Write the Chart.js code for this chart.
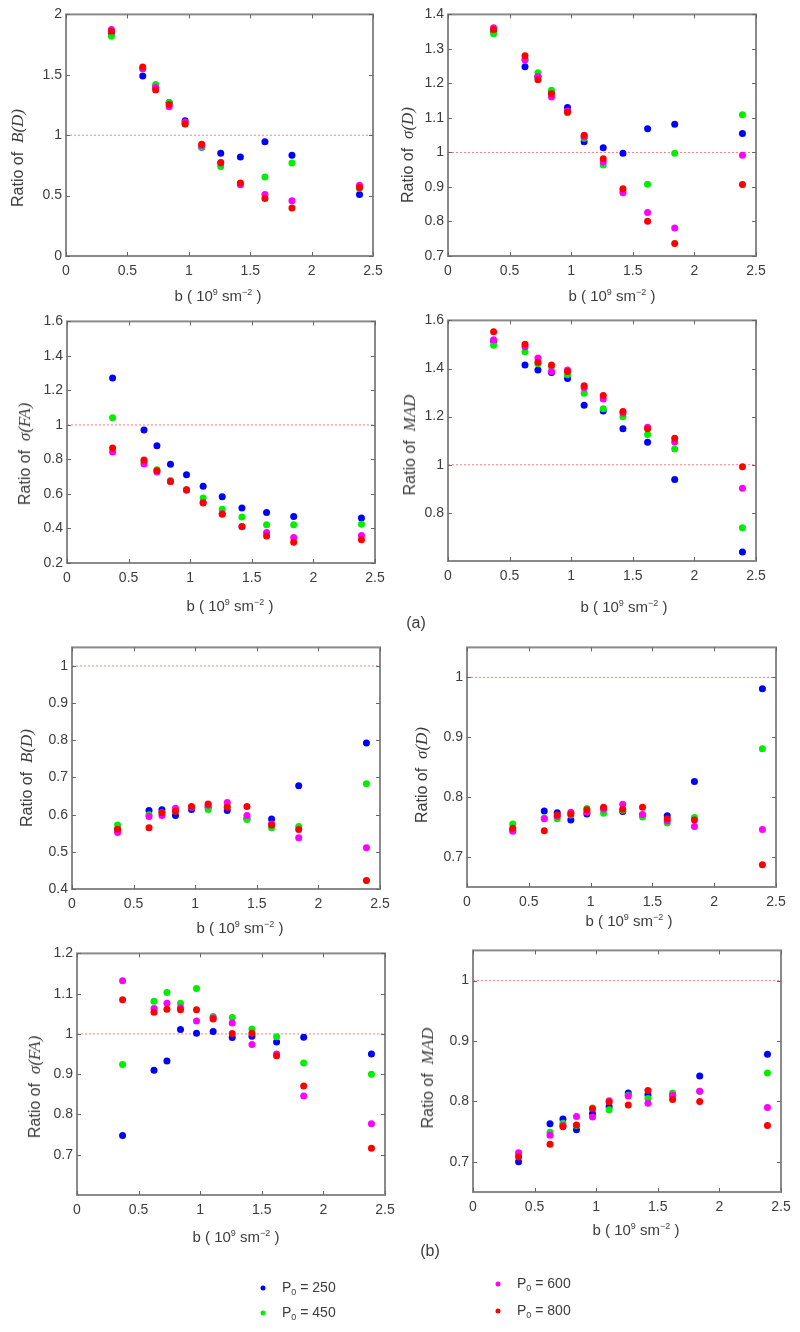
<!DOCTYPE html>
<html>
<head>
<meta charset="utf-8">
<script src="https://cdn.jsdelivr.net/npm/chart.js@4.4.1/dist/chart.umd.min.js"></script>
<style>
  body { margin: 0; background: #fff; width: 800px; height: 1332px; position: relative; overflow: hidden;
         font-family: Arial, "Liberation Sans", sans-serif; color: #3c3c3c; }
  canvas { position: absolute; }
  .yt { position: absolute; transform: translate(-50%, -50%) rotate(-90deg); white-space: nowrap; font-size: 16px; }
  .xt { position: absolute; transform: translate(-50%, -50%); white-space: nowrap; font-size: 15px; }
  .xt sup { font-size: 9px; vertical-align: 6px; }
  .m { font-family: "Liberation Serif", "DejaVu Serif", serif; font-style: italic; font-size: 17px; }
  .tag { position: absolute; transform: translate(-50%, -50%); font-size: 16px; }
  .leg { position: absolute; font-size: 14px; white-space: nowrap; transform: translateY(-50%); }
  .leg sub { font-size: 9px; }
  .dot { position: absolute; width: 5px; height: 5px; border-radius: 50%; transform: translate(-50%, -50%); }
</style>
</head>
<body>
<script>
// b values (10^9 s m^-2), shared by every panel
const bValues = [0.37, 0.625, 0.73, 0.84, 0.97, 1.105, 1.26, 1.42, 1.62, 1.84, 2.39];
const xTicks = [0, 0.5, 1, 1.5, 2, 2.5];

const seriesLabels = ['P0 = 250', 'P0 = 450', 'P0 = 600', 'P0 = 800'];
const seriesColors = ['#0000ff', '#00ee00', '#ff00ff', '#ff0000'];

// y tick values per panel
const yTicksBiasA = [0, 0.5, 1, 1.5, 2];
const yTicksSdDA = [0.7, 0.8, 0.9, 1, 1.1, 1.2, 1.3, 1.4];
const yTicksSdFAA = [0.2, 0.4, 0.6, 0.8, 1, 1.2, 1.4, 1.6];
const yTicksMadA = [0.8, 1, 1.2, 1.4, 1.6];
const yTicksBiasB = [0.4, 0.5, 0.6, 0.7, 0.8, 0.9, 1];
const yTicksSdDB = [0.7, 0.8, 0.9, 1];
const yTicksSdFAB = [0.7, 0.8, 0.9, 1, 1.1, 1.2];
const yTicksMadB = [0.7, 0.8, 0.9, 1];

// ----- (a) Ratio of B(D)
const aBiasD250 = [1.84, 1.49, 1.40, 1.27, 1.12, 0.90, 0.85, 0.82, 0.945, 0.835, 0.51];
const aBiasD450 = [1.82, 1.55, 1.42, 1.27, 1.09, 0.90, 0.74, 0.60, 0.655, 0.77, 0.56];
const aBiasD600 = [1.875, 1.55, 1.395, 1.235, 1.11, 0.915, 0.77, 0.59, 0.51, 0.457, 0.585];
const aBiasD800 = [1.86, 1.565, 1.375, 1.255, 1.095, 0.925, 0.775, 0.605, 0.477, 0.397, 0.567];

// ----- (a) Ratio of sigma(D)
const aSdD250 = [1.35, 1.248, 1.22, 1.175, 1.13, 1.031, 1.014, 0.998, 1.069, 1.082, 1.055];
const aSdD450 = [1.344, 1.27, 1.231, 1.18, 1.115, 1.041, 0.964, 0.89, 0.908, 0.998, 1.109];
const aSdD600 = [1.3615, 1.268, 1.22, 1.161, 1.12, 1.045, 0.972, 0.883, 0.826, 0.781, 0.992];
const aSdD800 = [1.356, 1.28, 1.211, 1.17, 1.117, 1.05, 0.982, 0.895, 0.801, 0.736, 0.907];

// ----- (a) Ratio of sigma(FA)
const aSdFA250 = [1.272, 0.971, 0.879, 0.772, 0.711, 0.645, 0.584, 0.519, 0.492, 0.469, 0.461];
const aSdFA450 = [1.042, 0.785, 0.741, 0.678, 0.624, 0.576, 0.511, 0.467, 0.421, 0.421, 0.425];
const aSdFA600 = [0.843, 0.774, 0.728, 0.672, 0.622, 0.55, 0.485, 0.41, 0.377, 0.348, 0.36];
const aSdFA800 = [0.866, 0.797, 0.735, 0.672, 0.624, 0.548, 0.482, 0.412, 0.356, 0.32, 0.335];

// ----- (a) Ratio of MAD
const aMad250 = [1.514, 1.415, 1.394, 1.383, 1.359, 1.247, 1.223, 1.15, 1.094, 0.939, 0.637];
const aMad450 = [1.497, 1.47, 1.42, 1.408, 1.374, 1.297, 1.233, 1.2, 1.126, 1.065, 0.738];
const aMad600 = [1.52, 1.491, 1.444, 1.388, 1.394, 1.32, 1.273, 1.215, 1.156, 1.095, 0.902];
const aMad800 = [1.553, 1.501, 1.426, 1.415, 1.388, 1.328, 1.288, 1.221, 1.15, 1.11, 0.992];

// ----- (b) Ratio of B(D)
const bBiasD250 = [0.56, 0.611, 0.613, 0.598, 0.614, 0.62, 0.611, 0.59, 0.588, 0.678, 0.793];
const bBiasD450 = [0.572, 0.60, 0.605, 0.61, 0.62, 0.614, 0.625, 0.587, 0.565, 0.568, 0.683];
const bBiasD600 = [0.552, 0.595, 0.598, 0.617, 0.62, 0.625, 0.633, 0.598, 0.575, 0.538, 0.511];
const bBiasD800 = [0.561, 0.565, 0.605, 0.609, 0.622, 0.629, 0.62, 0.622, 0.572, 0.56, 0.423];

// ----- (b) Ratio of sigma(D)
const bSdD250 = [0.745, 0.777, 0.774, 0.762, 0.772, 0.781, 0.776, 0.77, 0.769, 0.826, 0.981];
const bSdD450 = [0.755, 0.765, 0.764, 0.77, 0.781, 0.773, 0.778, 0.767, 0.757, 0.766, 0.881];
const bSdD600 = [0.743, 0.764, 0.768, 0.775, 0.775, 0.78, 0.788, 0.771, 0.76, 0.751, 0.746];
const bSdD800 = [0.748, 0.744, 0.77, 0.772, 0.779, 0.783, 0.78, 0.783, 0.764, 0.762, 0.687];

// ----- (b) Ratio of sigma(FA)
const bSdFA250 = [0.748, 0.91, 0.933, 1.011, 1.002, 1.006, 0.991, 0.994, 0.98, 0.992, 0.95];
const bSdFA450 = [0.924, 1.081, 1.103, 1.076, 1.113, 1.043, 1.041, 1.012, 0.993, 0.928, 0.90];
const bSdFA600 = [1.132, 1.063, 1.076, 1.065, 1.032, 1.04, 1.027, 0.974, 0.95, 0.846, 0.777];
const bSdFA800 = [1.085, 1.054, 1.061, 1.06, 1.06, 1.037, 1.001, 1.002, 0.946, 0.871, 0.716];

// ----- (b) Ratio of MAD
const bMad250 = [0.70, 0.763, 0.771, 0.753, 0.78, 0.791, 0.814, 0.811, 0.81, 0.842, 0.878];
const bMad450 = [0.712, 0.749, 0.764, 0.76, 0.789, 0.786, 0.81, 0.805, 0.814, 0.817, 0.847];
const bMad600 = [0.715, 0.744, 0.76, 0.775, 0.774, 0.801, 0.809, 0.797, 0.81, 0.817, 0.79];
const bMad800 = [0.708, 0.729, 0.758, 0.761, 0.788, 0.799, 0.794, 0.818, 0.803, 0.80, 0.76];

// panel layout: plot box [left, top, right, bottom], y range, label positions
const panels = [
  { box: [66, 14, 373, 256],    y: [0, 2],      ticks: yTicksBiasA, series: [aBiasD250, aBiasD450, aBiasD600, aBiasD800], ylab: 'B(D)',  yPos: [18, 158],  xPos: [218, 295] },
  { box: [448, 14, 756, 256],   y: [0.7, 1.4],  ticks: yTicksSdDA,  series: [aSdD250, aSdD450, aSdD600, aSdD800],         ylab: 'σ(D)',  yPos: [408, 155], xPos: [612, 295] },
  { box: [67, 321, 375, 563],   y: [0.2, 1.6],  ticks: yTicksSdFAA, series: [aSdFA250, aSdFA450, aSdFA600, aSdFA800],     ylab: 'σ(FA)', yPos: [25, 454],  xPos: [230, 605] },
  { box: [448, 320, 756, 561],  y: [0.6, 1.6],  ticks: yTicksMadA,  series: [aMad250, aMad450, aMad600, aMad800],         ylab: 'MAD',   yPos: [410, 445], xPos: [624, 606] },
  { box: [72, 647, 380, 889],   y: [0.4, 1.05], ticks: yTicksBiasB, series: [bBiasD250, bBiasD450, bBiasD600, bBiasD800], ylab: 'B(D)',  yPos: [27, 778],  xPos: [240, 927] },
  { box: [467, 647, 776, 887],  y: [0.65, 1.05], ticks: yTicksSdDB, series: [bSdD250, bSdD450, bSdD600, bSdD800],         ylab: 'σ(D)',  yPos: [422, 775], xPos: [629, 920] },
  { box: [77, 953, 385, 1195],  y: [0.6, 1.2],  ticks: yTicksSdFAB, series: [bSdFA250, bSdFA450, bSdFA600, bSdFA800],     ylab: 'σ(FA)', yPos: [35, 1087], xPos: [236, 1236] },
  { box: [473, 950, 781, 1192], y: [0.65, 1.05], ticks: yTicksMadB, series: [bMad250, bMad450, bMad600, bMad800],         ylab: 'MAD',   yPos: [428, 1078], xPos: [636, 1229] }
];

const PL = 56, PT = 12, PR = 22, PB = 40;
const tickFont = { family: 'Arial, "Liberation Sans", sans-serif', size: 14 };
const tickColor = '#3c3c3c';

function fmt(v) { return String(Math.round(v * 100) / 100); }

// MATLAB style frame with inward ticks on all four sides
const matlabAxes = {
  id: 'matlabAxes',
  afterDraw(chart) {
    const { ctx, chartArea: a, scales: { x, y } } = chart;
    ctx.save();
    ctx.strokeStyle = '#8a8a8a';
    ctx.lineWidth = 2;
    ctx.strokeRect(a.left, a.top, a.right - a.left, a.bottom - a.top);
    ctx.strokeStyle = '#666';
    ctx.lineWidth = 1;
    ctx.beginPath();
    x.ticks.forEach(t => {
      const px = Math.round(x.getPixelForValue(t.value)) + 0.5;
      ctx.moveTo(px, a.bottom); ctx.lineTo(px, a.bottom - 4);
      ctx.moveTo(px, a.top); ctx.lineTo(px, a.top + 4);
    });
    y.ticks.forEach(t => {
      const py = Math.round(y.getPixelForValue(t.value)) + 0.5;
      ctx.moveTo(a.left, py); ctx.lineTo(a.left + 4, py);
      ctx.moveTo(a.right, py); ctx.lineTo(a.right - 4, py);
    });
    ctx.stroke();
    ctx.restore();
  }
};

function addDiv(cls, html, x, y) {
  const d = document.createElement('div');
  d.className = cls;
  d.innerHTML = html;
  d.style.left = x + 'px';
  d.style.top = y + 'px';
  document.body.appendChild(d);
  return d;
}

panels.forEach(p => {
  const [l, t, r, b] = p.box;
  const cv = document.createElement('canvas');
  const w = r - l + PL + PR, h = b - t + PT + PB;
  cv.width = w; cv.height = h;
  cv.style.left = (l - PL) + 'px';
  cv.style.top = (t - PT) + 'px';
  cv.style.width = w + 'px';
  cv.style.height = h + 'px';
  document.body.appendChild(cv);

  const datasets = p.series.map((vals, i) => ({
    label: seriesLabels[i],
    data: bValues.map((bv, j) => ({ x: bv, y: vals[j] })),
    backgroundColor: seriesColors[i],
    borderColor: seriesColors[i],
    borderWidth: 0,
    pointRadius: 3.5,
    order: 4 - i
  }));
  datasets.push({
    type: 'line',
    label: 'ratio = 1',
    data: [{ x: 0, y: 1 }, { x: 2.5, y: 1 }],
    borderColor: 'rgba(255,80,80,0.75)',
    borderWidth: 1,
    borderDash: [2, 2],
    pointRadius: 0,
    order: 10
  });

  new Chart(cv, {
    type: 'scatter',
    data: { datasets },
    options: {
      responsive: false,
      animation: false,
      events: [],
      layout: { padding: { top: PT, right: PR, left: 0, bottom: 0 } },
      plugins: { legend: { display: false }, tooltip: { enabled: false } },
      scales: {
        x: {
          type: 'linear', min: 0, max: 2.5,
          afterBuildTicks: s => { s.ticks = xTicks.map(v => ({ value: v })); },
          ticks: { padding: 7, color: tickColor, font: tickFont, callback: fmt, maxRotation: 0 },
          grid: { display: false, drawTicks: false },
          border: { display: false },
          afterFit: s => { s.height = PB; }
        },
        y: {
          type: 'linear', min: p.y[0], max: p.y[1],
          afterBuildTicks: s => { s.ticks = p.ticks.map(v => ({ value: v })); },
          ticks: { padding: 4, color: tickColor, font: tickFont, callback: fmt },
          grid: { display: false, drawTicks: false },
          border: { display: false },
          afterFit: s => { s.width = PL; }
        }
      }
    },
    plugins: [matlabAxes]
  });

  addDiv('yt', 'Ratio of&nbsp;&nbsp;<span class="m">' + p.ylab + '</span>', p.yPos[0], p.yPos[1]);
  addDiv('xt', 'b ( 10<sup>9</sup> sm<sup>−2</sup> )', p.xPos[0], p.xPos[1]);
});

addDiv('tag', '(a)', 416, 623);
addDiv('tag', '(b)', 430, 1251);

// legend
const legendPos = [[263, 1288], [263, 1313], [498, 1284], [498, 1311]];
const legendVals = ['250', '450', '600', '800'];
legendPos.forEach(([x, y], i) => {
  const d = addDiv('dot', '', x, y);
  d.style.background = seriesColors[i];
  addDiv('leg', 'P<sub>0</sub> = ' + legendVals[i], x + 19, y);
});
</script>
</body>
</html>
